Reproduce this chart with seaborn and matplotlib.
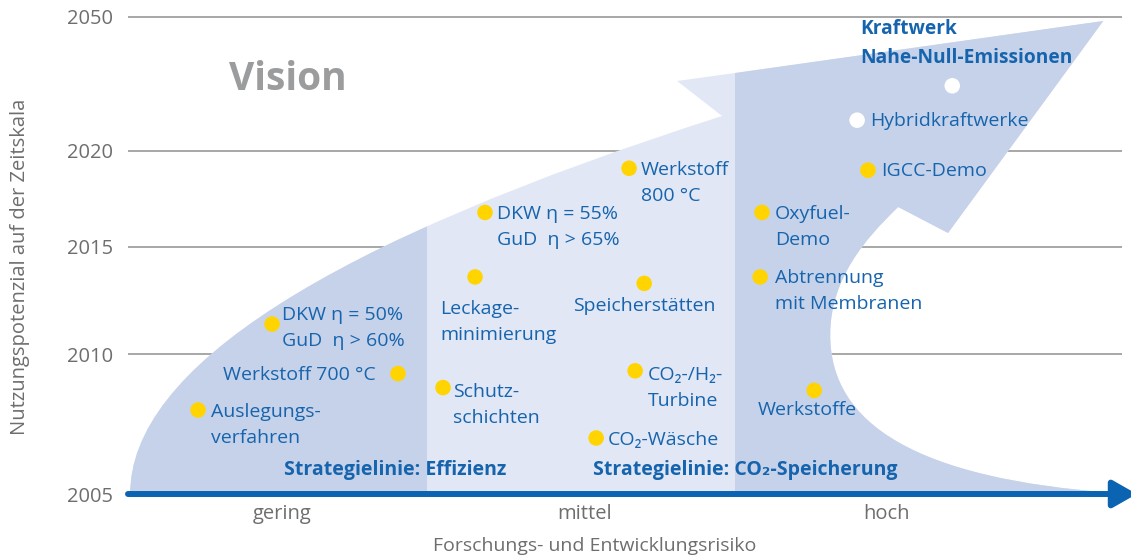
import numpy as np
import pandas as pd
import matplotlib
matplotlib.use("Agg")
import matplotlib.pyplot as plt
import seaborn as sns
from matplotlib.path import Path
from matplotlib.patches import PathPatch

# ---- Daten ----
tick_years = [2005, 2010, 2015, 2020, 2050]
tick_pos = [0, 140, 247, 343, 477]          # ungleichmaessige Zeitskala
risk_labels = ["gering", "mittel", "hoch"]
risk_ticks = [1, 2, 3]

labels = [
    "Auslegungs-\nverfahren",
    "DKW η = 50%\nGuD  η > 60%",
    "Werkstoff 700 °C",
    "Schutz-\nschichten",
    "Leckage-\nminimierung",
    "DKW η = 55%\nGuD  η > 65%",
    "Werkstoff\n800 °C",
    "Speicherstätten",
    "CO₂-/H₂-\nTurbine",
    "CO₂-Wäsche",
    "Oxyfuel-\nDemo",
    "Abtrennung\nmit Membranen",
    "Werkstoffe",
    "IGCC-Demo",
    "Hybridkraftwerke",
    "Kraftwerk\nNahe-Null-Emissionen",
]
risk = [0.722, 0.967, 1.384, 1.533, 1.639, 1.672, 2.149, 2.199,
        2.169, 2.040, 2.589, 2.583, 2.762, 2.940, 2.904, 3.219]
years = [2008.0, 2011.4, 2009.3, 2008.8, 2013.6, 2016.8, 2019.1, 2013.3,
         2009.4, 2007.0, 2016.8, 2013.6, 2008.7, 2019.0, 2026.9, 2034.6]
kinds = ["heute"] * 14 + ["zukunft"] * 2

# label placement (pixel offsets of the first line centre from the dot, alignment)
label_pos = [
    (13, 0, "left"), (10, 11, "left"), (-22, 0, "right"), (10, -2, "left"),
    (-35, -30, "left"), (12, 0, "left"), (12, 0, "left"), (0, -22, "center"),
    (13, -2, "left"), (12, -1, "left"), (13, 0, "left"), (15, 1, "left"),
    (-7, -19, "center"), (13, 0, "left"), (13, 0, "left"), (-92, 56, "left"),
]
line_px = 27

# outline of the big arrow (x = risk, y = position on time scale)
shape_verts = [
    (0.497, 0), (0.497, 189), (2.457, 378),
    (2.308, 413), (2.500, 421), (3.719, 473), (3.205, 261), (3.040, 287),
    (2.93, 255), (2.815, 215), (2.815, 159),
    (2.815, 70), (3.10, 15), (3.76, 1),
    (3.76, 0), (0.497, 0),
]
shape_codes = [Path.MOVETO, Path.CURVE3, Path.CURVE3,
               Path.LINETO, Path.LINETO, Path.LINETO, Path.LINETO, Path.LINETO,
               Path.CURVE4, Path.CURVE4, Path.CURVE4,
               Path.CURVE4, Path.CURVE4, Path.CURVE4,
               Path.LINETO, Path.CLOSEPOLY]

df = pd.DataFrame({"label": labels, "risk": risk, "year": years, "kind": kinds})
df["pos"] = np.interp(df["year"], tick_years, tick_pos)

sns.set_theme(style="white")
plt.rcParams["font.family"] = ["Open Sans", "DejaVu Sans"]

blue = "#1664ad"
arrow_blue = "#0a64b2"
grey = "#6d6e70"
light = "#e1e7f5"
dark = "#c6d2e9"
fs = 14

fig = plt.figure(figsize=(11.31, 5.57), dpi=100)
ax = fig.add_axes([128 / 1131, 63 / 557, 994 / 1131, 477 / 557])
x0, x1 = 0.49, 3.781
ax.set_xlim(x0, x1)
ax.set_ylim(0, 477)

ax.hlines(tick_pos[1:], x0, x1, color="#a0a0a0", lw=1.3, zorder=0, clip_on=False)

shape = PathPatch(Path(shape_verts, shape_codes), facecolor=light, edgecolor="none", zorder=1)
ax.add_patch(shape)
for a, b in [(0.4, 1.48), (2.5, 4.0)]:
    sp = ax.axvspan(a, b, color=dark, lw=0, zorder=2)
    sp.set_clip_path(shape)

sns.scatterplot(data=df, x="risk", y="pos", hue="kind",
                palette={"heute": "#ffd400", "zukunft": "white"},
                s=125, linewidth=0, legend=False, zorder=5, ax=ax)

for i, row in df.iterrows():
    dx, dy, ha = label_pos[i]
    n_extra = row["label"].count("\n")
    bold = row["label"].startswith("Kraftwerk")
    ax.annotate(row["label"], (row["risk"], row["pos"]),
                xytext=(dx, dy - 6 - n_extra * line_px),
                textcoords="offset pixels", ha=ha, va="baseline",
                fontsize=fs if not bold else 13.8, color=blue, linespacing=1.57,
                fontweight="bold" if bold else "normal", zorder=6)

ax.text(1.02, 419, "Vision", fontsize=28, fontweight="bold", color="#9b9c9e",
        ha="center", va="center_baseline")
ax.text(1.007, 27, "Strategielinie: Effizienz", fontsize=fs, fontweight="bold",
        color=blue, ha="left", va="center_baseline", zorder=6)
ax.text(2.030, 27, "Strategielinie: CO₂-Speicherung", fontsize=fs, fontweight="bold",
        color=blue, ha="left", va="center_baseline", zorder=6)

# x axis arrow
ax.annotate("", xy=(3.83, 0), xytext=(x0, 0),
            arrowprops=dict(arrowstyle="-|>,head_length=0.72,head_width=0.41",
                            mutation_scale=20, lw=4.3, color=arrow_blue,
                            shrinkA=0, shrinkB=0),
            annotation_clip=False, zorder=7)

ax.set_yticks(tick_pos, labels=[str(y) for y in tick_years])
ax.set_xticks(risk_ticks, labels=risk_labels)
ax.tick_params(axis="both", length=0, colors=grey, labelsize=14.5)
ax.tick_params(axis="y", pad=11)
ax.tick_params(axis="x", pad=7)
ax.set_xlabel("")
ax.set_ylabel("")
sns.despine(ax=ax, left=True, bottom=True)

fig.text(20 / 1131, 1 - 267 / 557, "Nutzungspotenzial auf der Zeitskala",
         rotation=90, ha="center", va="center", fontsize=14.5, color=grey)
fig.text(595 / 1131, 1 - 546 / 557, "Forschungs- und Entwicklungsrisiko",
         ha="center", va="center", fontsize=14, color=grey)

fig.savefig("out.png", dpi=100)
